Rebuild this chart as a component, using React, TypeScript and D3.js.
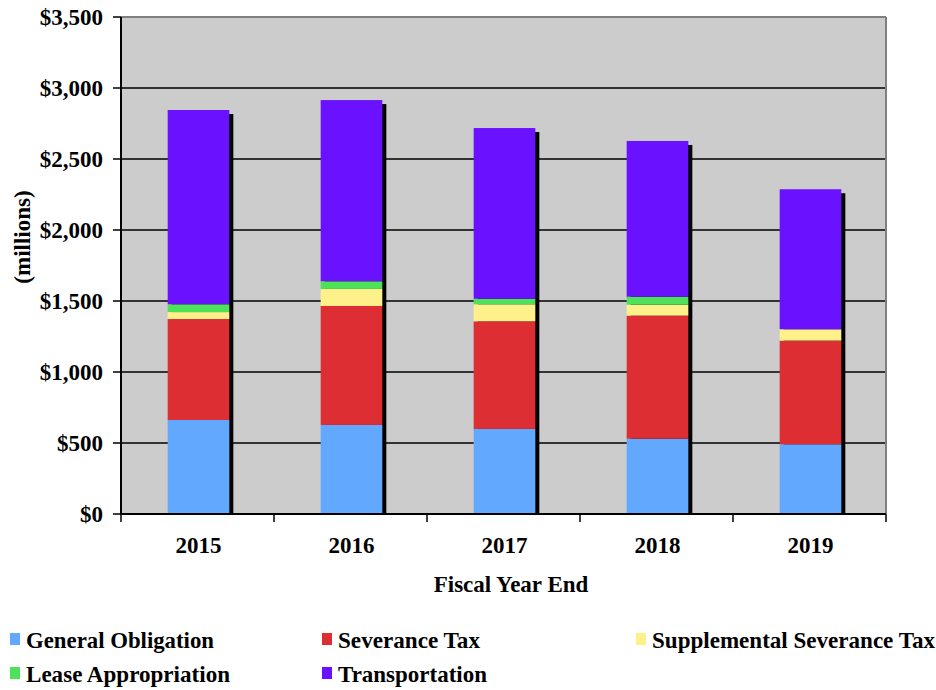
import React from "react";
import * as d3 from "d3";

const years = ["2015", "2016", "2017", "2018", "2019"];
const seriesNames = [
  "General Obligation",
  "Severance Tax",
  "Supplemental Severance Tax",
  "Lease Appropriation",
  "Transportation",
];
const generalObligation = [662, 627, 599, 530, 491];
const severanceTax = [711, 838, 758, 867, 730];
const supplementalSeverance = [49, 120, 120, 77, 80];
const leaseAppropriation = [55, 54, 39, 56, 0];
const transportation = [1368, 1276, 1202, 1097, 986];
const yTicks = [0, 500, 1000, 1500, 2000, 2500, 3000, 3500];
const colors = ["#63a8ff", "#dd2e33", "#fff18a", "#4ee25a", "#6a12ff"];

const W = 936;
const H = 690;
const M = { left: 121, right: 886, top: 17, bottom: 514 };
const FONT = "Liberation Serif";

export default function App() {
  const values = [generalObligation, severanceTax, supplementalSeverance, leaseAppropriation, transportation];
  const rows = years.map((y, i) => {
    const r: any = { year: y };
    seriesNames.forEach((s, k) => (r[s] = values[k][i]));
    return r;
  });
  const stack = d3.stack<any>().keys(seriesNames)(rows);
  const x = d3.scaleBand().domain(years).range([M.left, M.right]).paddingInner(0.597).paddingOuter(0.2985);
  const y = d3.scaleLinear().domain([0, 3500]).range([M.bottom, M.top]);
  const bw = x.bandwidth();
  const totals = years.map((_, i) => d3.sum(values, (v) => v[i]));
  const step = x.step();
  const xs = (yr: string) => (x(yr) as number) + 1;

  const legendItems = [
    { name: seriesNames[0], x: 10, y: 648, w: 188 },
    { name: seriesNames[1], x: 322, y: 648, w: 142 },
    { name: seriesNames[2], x: 636, y: 648, w: 283 },
    { name: seriesNames[3], x: 10, y: 682, w: 204 },
    { name: seriesNames[4], x: 322, y: 682, w: 149 },
  ];

  return (
    <svg width={W} height={H} style={{ position: "absolute", left: 0, top: 0, fontFamily: FONT }}>
      <rect x={M.left} y={M.top} width={M.right - M.left} height={M.bottom - M.top} fill="#cccccc" />
      {yTicks.map((t) => (
        <g key={t}>
          {t > 0 && t < 3500 && (
            <line x1={M.left} x2={M.right} y1={y(t)} y2={y(t)} stroke="#000" strokeWidth={1.5} />
          )}
          <line x1={M.left - 8} x2={M.left} y1={y(t)} y2={y(t)} stroke="#000" strokeWidth={1.5} />
          <text x={103} y={y(t) + 8} textAnchor="end" fontSize={23} fontWeight="bold">
            {d3.format("$,")(t)}
          </text>
        </g>
      ))}
      <line x1={M.left} x2={M.right} y1={M.top} y2={M.top} stroke="#808080" strokeWidth={2} />
      <line x1={M.right} x2={M.right} y1={M.top} y2={M.bottom} stroke="#808080" strokeWidth={2} />
      {years.map((yr, i) => (
        <rect
          key={"sh" + yr}
          x={xs(yr) + 4}
          y={y(totals[i]) + 4}
          width={bw}
          height={M.bottom - y(totals[i]) - 4}
          fill="#000"
        />
      ))}
      {stack.map((s, k) => (
        <g key={s.key} fill={colors[k]}>
          {s.map((d, i) =>
            d[1] - d[0] > 0 ? (
              <rect key={i} x={xs(years[i])} y={y(d[1])} width={bw} height={y(d[0]) - y(d[1])} />
            ) : null
          )}
        </g>
      ))}
      <line x1={M.left} x2={M.left} y1={M.top} y2={M.bottom} stroke="#000" strokeWidth={2} />
      <line x1={M.left} x2={M.right} y1={M.bottom} y2={M.bottom} stroke="#000" strokeWidth={2} />
      {d3.range(years.length + 1).map((i) => (
        <line
          key={"xt" + i}
          x1={M.left + i * step}
          x2={M.left + i * step}
          y1={M.bottom}
          y2={M.bottom + 8}
          stroke="#000"
          strokeWidth={1.5}
        />
      ))}
      {years.map((yr) => (
        <text key={"xl" + yr} x={xs(yr) + bw / 2} y={553} textAnchor="middle" fontSize={23} fontWeight="bold">
          {yr}
        </text>
      ))}
      <text x={511} y={592} textAnchor="middle" fontSize={23} fontWeight="bold">
        Fiscal Year End
      </text>
      <text transform="translate(30,237) rotate(-90)" textAnchor="middle" fontSize={23} fontWeight="bold">
        (millions)
      </text>
      {legendItems.map((it, k) => (
        <g key={it.name}>
          <rect x={it.x} y={it.y - 15} width={10} height={12} fill={colors[k]} />
          <text
            x={it.x + 16}
            y={it.y}
            fontSize={23}
            fontWeight="bold"
            textLength={it.w}
            lengthAdjust="spacingAndGlyphs"
          >
            {it.name}
          </text>
        </g>
      ))}
    </svg>
  );
}
